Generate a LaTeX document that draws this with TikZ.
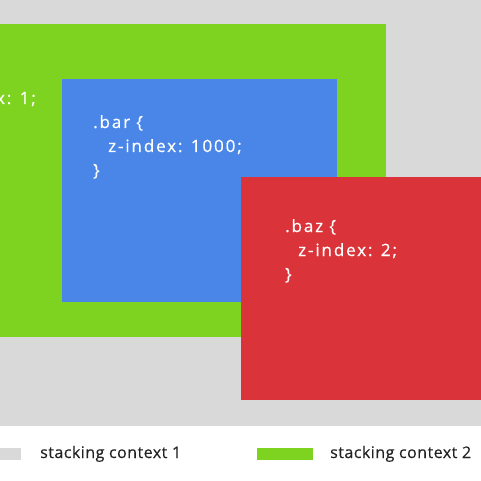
\documentclass[tikz,border=0pt]{standalone}
\usepackage{fontspec}
\setmainfont{Open Sans}
\newfontfamily\codefont[LetterSpace=11,FakeBold=0.6]{Open Sans}
\newfontfamily\legfont[LetterSpace=3,FakeBold=0.3]{Open Sans}
\definecolor{bggray}{HTML}{D9D9D9}
\definecolor{ctxgreen}{HTML}{7ED321}
\definecolor{barblue}{HTML}{4A86E8}
\definecolor{bazred}{HTML}{DA3339}
\definecolor{legtext}{HTML}{222222}
\tikzset{
  codetext/.style={anchor=base west, inner sep=0pt, text=white, font=\codefont\fontsize{17}{20}\selectfont},
  legtxt/.style={anchor=base west, inner sep=0pt, text=legtext, font=\legfont\fontsize{16}{18}\selectfont},
}
\begin{document}
\begin{tikzpicture}[x=1pt,y=-1pt]
\useasboundingbox (0,0) rectangle (481,481);
\clip (0,0) rectangle (481,481);
\fill[white] (0,0) rectangle (481,481);
\fill[bggray] (0,0) rectangle (481,426);
\fill[ctxgreen] (0,24.5) rectangle (386,336.5);
\node[codetext, anchor=base east] (fooz) at (36,104) {z-index: 1;};
\fill[barblue] (62,79) rectangle (337,302);
\node[codetext] (bar1) at (93,128) {.bar \{};
\node[codetext] (bar2) at (108,152) {z-index: 1000;};
\node[codetext] (bar3) at (93,176) {\}};
\fill[bazred] (241,177) rectangle (481,400);
\node[codetext] (baz1) at (285,232) {.baz \{};
\node[codetext] (baz2) at (298,256) {z-index: 2;};
\node[codetext] (baz3) at (285,280) {\}};
\fill[bggray] (0,448) rectangle (21,460);
\node[legtxt] (leg1) at (40,458) {stacking context 1};
\fill[ctxgreen] (257,448) rectangle (313,460);
\node[legtxt] (leg2) at (330,458) {stacking context 2};
\end{tikzpicture}
\end{document}
